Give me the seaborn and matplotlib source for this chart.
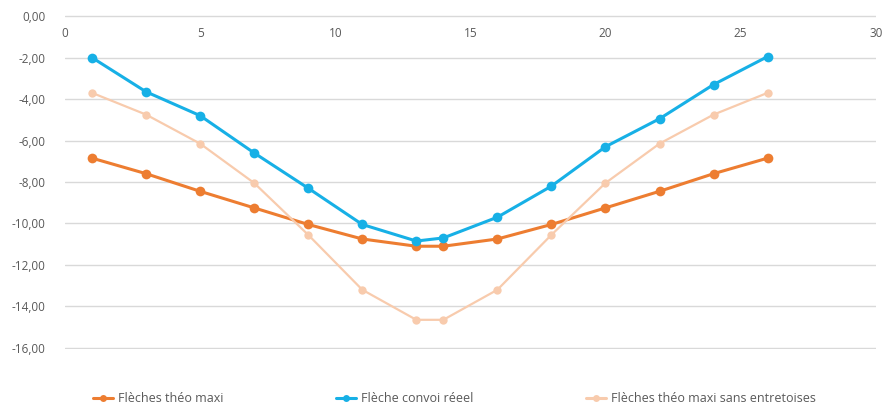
import numpy as np
import pandas as pd
import matplotlib
matplotlib.use('Agg')
import matplotlib.pyplot as plt
from matplotlib.ticker import FuncFormatter
import seaborn as sns

# Data
positions = [1, 3, 5, 7, 9, 11, 13, 14, 16, 18, 20, 22, 24, 26]
theo_maxi = [-6.85, -7.60, -8.45, -9.25, -10.05, -10.75, -11.10, -11.10,
             -10.75, -10.05, -9.25, -8.45, -7.60, -6.85]
convoi_reel = [-2.00, -3.65, -4.80, -6.60, -8.30, -10.05, -10.85, -10.70,
               -9.70, -8.20, -6.30, -4.95, -3.30, -1.95]
sans_entretoises = [-3.70, -4.75, -6.15, -8.05, -10.55, -13.20, -14.65, -14.65,
                    -13.20, -10.55, -8.05, -6.15, -4.75, -3.70]
series_names = ['Flèches théo maxi', 'Flèche convoi réeel',
                'Flèches théo maxi sans entretoises']
colors = ['#ED7D31', '#17B0E6', '#F8CBAD']

df = pd.DataFrame({
    'x': positions * 3,
    'y': theo_maxi + convoi_reel + sans_entretoises,
    'serie': np.repeat(series_names, len(positions)),
})

sns.set_theme(style='white')
plt.rcParams['font.family'] = ['Open Sans', 'DejaVu Sans']

fig = plt.figure(figsize=(8.9, 4.08), dpi=100)
ax = fig.add_axes([0.073, 0.145, 0.911, 0.818])

sns.lineplot(data=df, x='x', y='y', hue='serie', palette=colors,
             marker='o', markersize=7, markeredgewidth=0, linewidth=2.2,
             ax=ax, legend=False)
# lighter series drawn thinner in the original
ax.lines[2].set_linewidth(1.6)
ax.lines[2].set_markersize(6)

ax.set_xlim(0, 30)
ax.set_ylim(-16.05, 0.05)
ax.set_yticks(np.arange(-16, 0.1, 2))
ax.set_xticks(np.arange(0, 31, 5))
ax.yaxis.set_major_formatter(FuncFormatter(lambda v, p: f'{v:.2f}'.replace('.', ',')))
ax.grid(axis='y', color='#D9D9D9', linewidth=1)
ax.grid(axis='x', visible=False)
for s in ax.spines.values():
    s.set_visible(False)
ax.tick_params(axis='x', bottom=False, labelbottom=False, top=False,
               labeltop=True, pad=-24, labelsize=8.5, colors='#595959')
ax.tick_params(axis='y', left=False, labelsize=8.5, colors='#595959', pad=8)
ax.set_xlabel('')
ax.set_ylabel('')

handles = [plt.Line2D([], [], color=c, marker='o', markersize=5, linewidth=2.2,
                      markeredgewidth=0) for c in colors]
fig.legend(handles, series_names, loc='lower left', bbox_to_anchor=(0.092, -0.02),
           ncol=3, frameon=False, fontsize=9, handlelength=1.6, handletextpad=0.4,
           columnspacing=9, labelcolor='#595959')

fig.savefig('out.png', dpi=100, facecolor='white')
